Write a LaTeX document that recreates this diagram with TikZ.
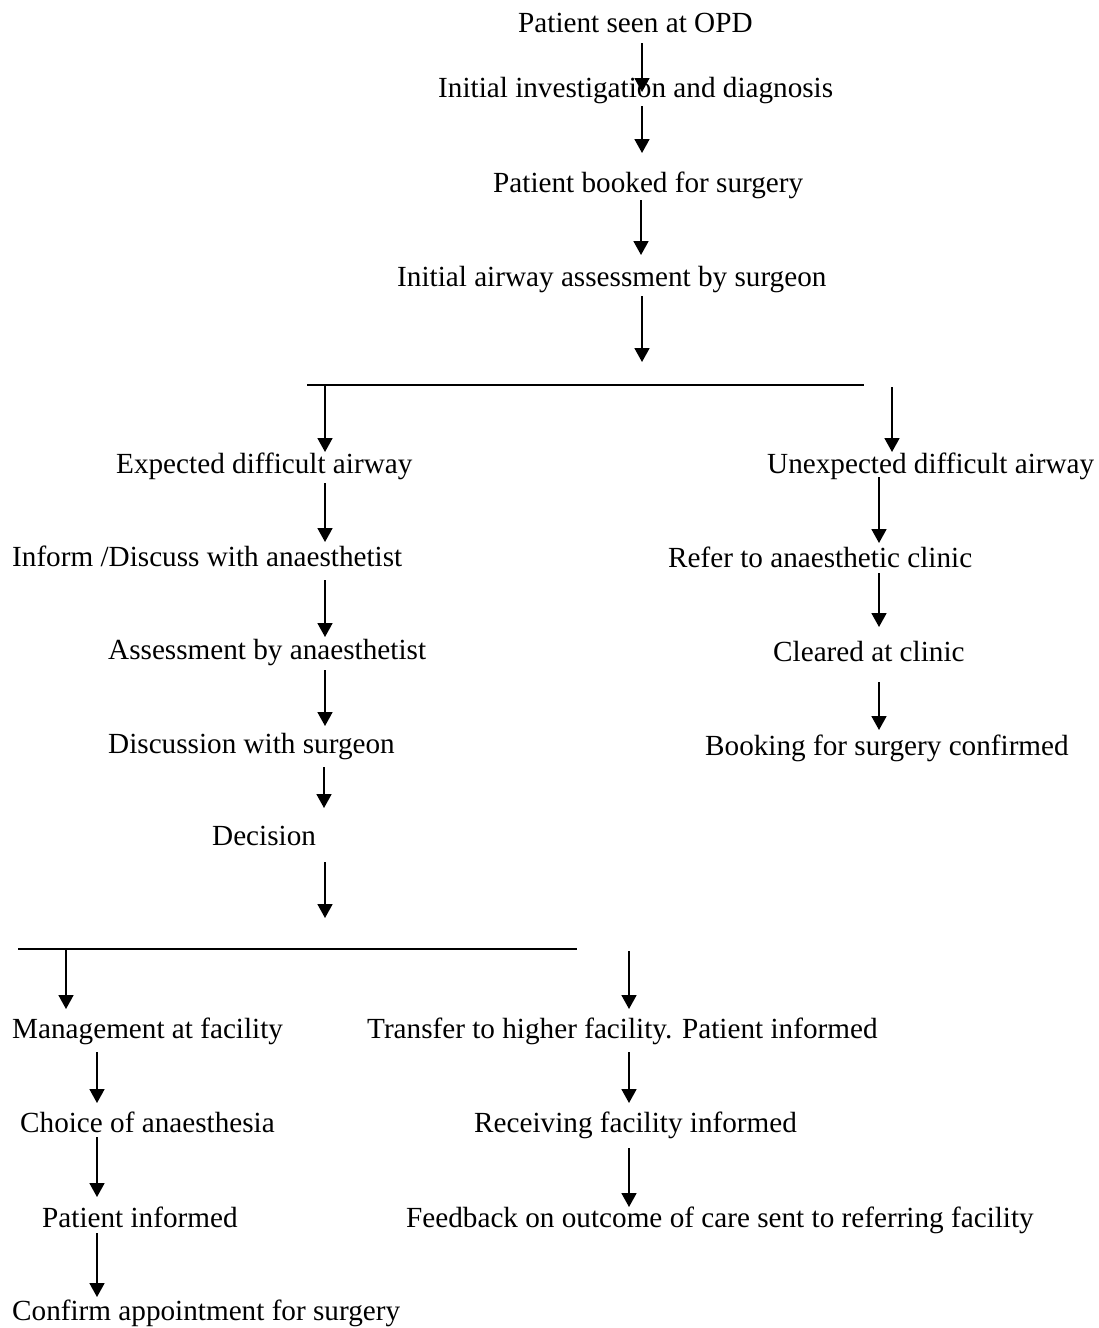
\documentclass[tikz,border=0pt]{standalone}
\usepackage{fontspec}
\setmainfont{Liberation Serif}
\usetikzlibrary{arrows.meta}
\begin{document}
\begin{tikzpicture}[x=1pt,y=-1pt,
  lbl/.style={anchor=base west,inner sep=0pt,font=\fontsize{29.2}{35}\selectfont},
  arr/.style={line width=1.8pt,-{Triangle[width=15pt,length=14pt]}},
  bar/.style={line width=1.2pt}]
\useasboundingbox (0,0) rectangle (1098,1328);
% top chain
\node[lbl] (n1) at (518,32) {Patient seen at OPD};
\node[lbl] (n2) at (438,97) {Initial investigation and diagnosis};
\node[lbl] (n3) at (493,192) {Patient booked for surgery};
\node[lbl] (n4) at (397,286) {Initial airway assessment by surgeon};
% left branch
\node[lbl] (e1) at (116,473) {Expected difficult airway};
\node[lbl] (e2) at (12,566) {Inform /Discuss with anaesthetist};
\node[lbl] (e3) at (108,659) {Assessment by anaesthetist};
\node[lbl] (e4) at (108,753) {Discussion with surgeon};
\node[lbl] (e5) at (212,845) {Decision};
% right branch
\node[lbl] (u1) at (767,473) {Unexpected difficult airway};
\node[lbl] (u2) at (668,567) {Refer to anaesthetic clinic};
\node[lbl] (u3) at (773,661) {Cleared at clinic};
\node[lbl] (u4) at (705,755) {Booking for surgery confirmed};
% bottom left
\node[lbl] (m1) at (12,1038) {Management at facility};
\node[lbl] (m2) at (20,1132) {Choice of anaesthesia};
\node[lbl] (m3) at (42,1227) {Patient informed};
\node[lbl] (m4) at (12,1320) {Confirm appointment for surgery};
% bottom right
\node[lbl] (t1) at (367,1038) {Transfer to higher facility. Patient informed};
\node[lbl] (t2) at (474,1132) {Receiving facility informed};
\node[lbl] (t3) at (406,1227) {Feedback on outcome of care sent to referring facility};
% split bars
\coordinate (b1l) at (307,385); \coordinate (b1r) at (864,385);
\coordinate (b2l) at (18,949); \coordinate (b2r) at (577,949);
\draw[bar] (b1l) -- (b1r);
\draw[bar] (b2l) -- (b2r);
% arrow end points
\coordinate (a1s) at (642,43);  \coordinate (a1e) at (642,92);
\coordinate (a2s) at (642,106); \coordinate (a2e) at (642,153);
\coordinate (a3s) at (641,200); \coordinate (a3e) at (641,255);
\coordinate (a4s) at (642,296); \coordinate (a4e) at (642,362);
\coordinate (l0s) at (325,385); \coordinate (l0e) at (325,452);
\coordinate (r0s) at (892,387); \coordinate (r0e) at (892,452);
\coordinate (l1s) at (325,483); \coordinate (l1e) at (325,542);
\coordinate (l2s) at (325,580); \coordinate (l2e) at (325,637);
\coordinate (l3s) at (325,670); \coordinate (l3e) at (325,726);
\coordinate (l4s) at (324,767); \coordinate (l4e) at (324,808);
\coordinate (l5s) at (325,862); \coordinate (l5e) at (325,918);
\coordinate (r1s) at (879,477); \coordinate (r1e) at (879,543);
\coordinate (r2s) at (879,573); \coordinate (r2e) at (879,627);
\coordinate (r3s) at (879,682); \coordinate (r3e) at (879,730);
\coordinate (m0s) at (66,949);  \coordinate (m0e) at (66,1009);
\coordinate (t0s) at (629,951); \coordinate (t0e) at (629,1009);
\coordinate (m1s) at (97,1052); \coordinate (m1e) at (97,1103);
\coordinate (m2s) at (97,1137); \coordinate (m2e) at (97,1197);
\coordinate (m3s) at (97,1233); \coordinate (m3e) at (97,1297);
\coordinate (t1s) at (629,1052); \coordinate (t1e) at (629,1103);
\coordinate (t2s) at (629,1148); \coordinate (t2e) at (629,1207);
\foreach \a in {a1,a2,a3,a4,l0,r0,l1,l2,l3,l4,l5,r1,r2,r3,m0,t0,m1,m2,m3,t1,t2}
  \draw[arr] (\a s) -- (\a e);
\end{tikzpicture}
\end{document}
